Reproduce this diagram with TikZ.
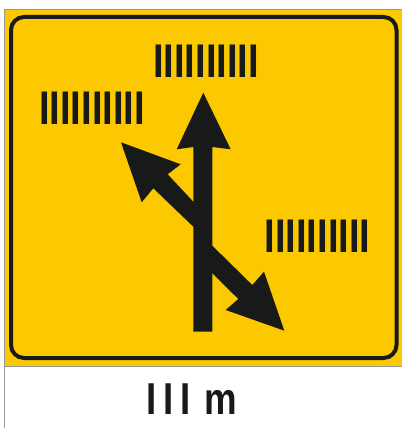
\documentclass[tikz,border=0pt]{standalone}
\usepackage{fontspec}
\newfontfamily\signfont{Liberation Sans}
\definecolor{signyellow}{RGB}{252,201,0}
\definecolor{signblack}{RGB}{24,26,25}
\definecolor{edgegrey}{RGB}{150,150,150}
\tikzset{
  ink/.style={fill=signblack, draw=none},
  placeholder/.style={inner sep=0pt, outer sep=0pt, text=signblack, font=\signfont\bfseries},
  edge/.style={draw=edgegrey, line width=1pt}
}
\begin{document}
\begin{tikzpicture}[x=1pt, y=-1pt]
\useasboundingbox (0,0) rectangle (402,428);
% panels
\fill[white] (0,0) rectangle (402,428);
\fill[signyellow] (4,10) rectangle (402,366);
\fill[white] (4,366) rectangle (402,428);
\draw[edge] (4,428) -- (4,10) -- (402,10);
\draw[edge] (4,366) -- (402,366);
% inner black frame
\draw[signblack, line width=4pt, rounded corners=13pt] (11,17) rectangle (396.5,358);
% main shaft with up arrow
\fill[ink] (193.3,331.7) -- (193.3,147) -- (176.7,149.3) -- (203.3,92.7)
  -- (230.7,149.3) -- (212.3,147) -- (212.3,331.7) -- cycle;
% left branch
\fill[ink] (193.3,226.7) -- (153.3,188.3) -- (141.7,202.3) -- (121,142.3)
  -- (180.7,164.3) -- (167.7,174.3) -- (193.3,201.7) -- (202,201.7)
  -- (202,226.7) -- cycle;
% right branch
\fill[ink] (212.3,245.7) -- (252.3,285) -- (264,271.7) -- (284.3,330.7)
  -- (225.7,310) -- (238.3,299) -- (212.3,273.3) -- (203,273.3)
  -- (203,245.7) -- cycle;
% destination placeholders
\node[placeholder] (top) at (206,61) {\resizebox{105.6pt}{32.5pt}{IIIIIIIIII}};
\node[placeholder] (left) at (92,108.7) {\resizebox{105.6pt}{32.5pt}{IIIIIIIIII}};
\node[placeholder] (right) at (317.5,236.1) {\resizebox{105.6pt}{32.5pt}{IIIIIIIIII}};
% distance
\node[placeholder] (dist) at (191.4,399.2) {\scalebox{0.82}[1]{\fontsize{44.7pt}{44.7pt}\selectfont I\kern8.9pt I\kern8.9pt I\kern3.5pt\ m}};
\end{tikzpicture}
\end{document}
